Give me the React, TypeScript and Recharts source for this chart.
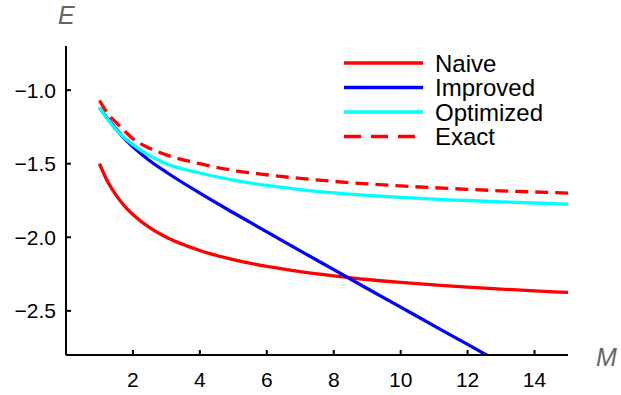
import { LineChart, Line, XAxis, YAxis } from "recharts";

const mValues = [1, 1.25, 1.5, 1.75, 2, 2.5, 3, 4, 5, 6, 7, 8, 9, 10, 11, 12, 13, 14, 15];
const naive = [-1.5, -1.624, -1.715, -1.788, -1.845, -1.935, -2.0, -2.09, -2.152, -2.198, -2.233, -2.262, -2.287, -2.307, -2.323, -2.339, -2.352, -2.364, -2.375];
const improved = [-1.12, -1.195, -1.265, -1.33, -1.385, -1.48, -1.558, -1.7, -1.833, -1.963, -2.092, -2.22, -2.348, -2.475, -2.602, -2.728, -2.855, null, null];
const optimized = [-1.12, -1.2, -1.27, -1.325, -1.37, -1.445, -1.5, -1.563, -1.612, -1.648, -1.676, -1.698, -1.715, -1.729, -1.741, -1.75, -1.759, -1.767, -1.775];
const exact = [-1.07, -1.16, -1.22, -1.277, -1.33, -1.395, -1.44, -1.5, -1.545, -1.575, -1.6, -1.62, -1.637, -1.651, -1.663, -1.674, -1.684, -1.692, -1.7];

const seriesNames = ["Naive", "Improved", "Optimized", "Exact"];
const seriesKeys = ["naive", "improved", "optimized", "exact"];
const seriesColors = ["#ff0000", "#0000ff", "#00ffff", "#ff0000"];

const xTicks = [2, 4, 6, 8, 10, 12, 14];
const yTicks = [-2.5, -2, -1.5, -1];

const data = mValues.map((m, i) => ({
  m,
  naive: naive[i],
  improved: improved[i],
  optimized: optimized[i],
  exact: exact[i]
}));

const FONT = "'Liberation Sans', Arial, Helvetica, sans-serif";

function fmt(v: number) {
  return (v < 0 ? "\u2212" : "") + Math.abs(v).toFixed(1);
}

function XTick(props: any) {
  const { x, y, payload } = props;
  return (
    <g>
      <line x1={x} y1={y} x2={x} y2={y - 5} stroke="#000" strokeWidth={2} />
      <text x={x} y={y + 32} textAnchor="middle" fontSize={21} fontFamily={FONT} fill="#000">
        {payload.value}
      </text>
    </g>
  );
}

function YTick(props: any) {
  const { x, y, payload } = props;
  return (
    <g>
      <line x1={x} y1={y} x2={x + 5} y2={y} stroke="#000" strokeWidth={2} />
      <text x={x - 10} y={y} dy="0.36em" textAnchor="end" fontSize={21} fontFamily={FONT} fill="#000">
        {fmt(payload.value)}
      </text>
    </g>
  );
}

// legend drawn by hand so it takes no room from the plot
function LegendBlock() {
  return (
    <g>
      {seriesNames.map((name, i) => {
        const y = 63 + i * 24.5;
        return (
          <g key={name}>
            <line
              x1={344}
              y1={y}
              x2={423}
              y2={y}
              stroke={seriesColors[i]}
              strokeWidth={3.3}
              strokeDasharray={seriesKeys[i] === "exact" ? "17 10" : undefined}
            />
            <text x={435} y={y} dy="0.36em" fontSize={24} fontFamily={FONT} fill="#000">
              {name}
            </text>
          </g>
        );
      })}
    </g>
  );
}

export default function App() {
  return (
    <div style={{ position: "absolute", left: 0, top: 0, background: "#fff" }}>
      <LineChart
        width={621}
        height={395}
        data={data}
        margin={{ top: 46, right: 53, bottom: 10, left: 6 }}
      >
        <XAxis
          dataKey="m"
          type="number"
          domain={[0, 15]}
          ticks={xTicks}
          height={30}
          axisLine={{ stroke: "#000", strokeWidth: 2 }}
          tickLine={false}
          tickSize={0}
          tickMargin={0}
          tick={<XTick />}
          allowDataOverflow
        />
        <YAxis
          type="number"
          domain={[-2.8, -0.7]}
          ticks={yTicks}
          width={60}
          axisLine={{ stroke: "#000", strokeWidth: 2 }}
          tickLine={false}
          tickSize={0}
          tickMargin={0}
          tick={<YTick />}
          allowDataOverflow
        />
        {seriesKeys.map((k, i) => (
          <Line
            key={k}
            name={seriesNames[i]}
            dataKey={k}
            type="monotone"
            stroke={seriesColors[i]}
            strokeWidth={3.3}
            strokeDasharray={k === "exact" ? "13 7" : undefined}
            dot={false}
            isAnimationActive={false}
          />
        ))}
        <LegendBlock />
        <text x={58} y={24} fontSize={25} fontStyle="italic" fontFamily={FONT} fill="#666">E</text>
        <text x={596} y={366} fontSize={25} fontStyle="italic" fontFamily={FONT} fill="#666">M</text>
      </LineChart>
    </div>
  );
}
